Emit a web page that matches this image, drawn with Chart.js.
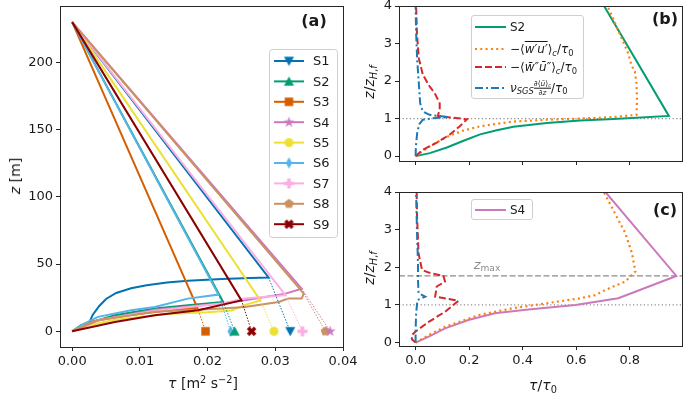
<!DOCTYPE html>
<html>
<head>
<meta charset="utf-8">
<script src="https://cdn.jsdelivr.net/npm/chart.js@4.4.0/dist/chart.umd.min.js"></script>
<style>
  body { margin: 0; background: #fff; font-family: 'DejaVu Sans', sans-serif; color: #1a1a1a; }
  #wrap { position: relative; width: 685px; height: 395px; overflow: hidden; }
  canvas { position: absolute; }
  .lbl { position: absolute; white-space: nowrap; font-size: 14px; line-height: 1; transform: translate(-50%, -50%); }
  .rot { transform: translate(-50%, -50%) rotate(-90deg); }
  .panel { position: absolute; font-weight: bold; font-size: 16px; line-height: 1; transform: translate(-50%, -50%); }
  .leg { position: absolute; border: 1px solid #cfcfcf; border-radius: 3px; background: rgba(255,255,255,0.8); box-sizing: border-box; }
  .leg svg { position: absolute; left: 0; top: 0; }
  .lt { position: absolute; left: 38px; transform: translateY(-50%); font-size: 12px; line-height: 1; white-space: nowrap; }
  sub { font-size: 0.7em; vertical-align: -0.3em; line-height: 0; }
  sup { font-size: 0.7em; vertical-align: 0.5em; line-height: 0; }
  .ov { text-decoration: overline; }
  .fr { display: inline-flex; flex-direction: column; font-size: 0.62em; vertical-align: middle; text-align: center; line-height: 1.05; }
  .fr > span:first-child { border-bottom: 1px solid #1a1a1a; }
</style>
</head>
<body>
<div id="wrap">
  <canvas id="chartA" width="360" height="395" style="left:0;top:0"></canvas>
  <canvas id="chartB" width="330" height="175" style="left:355px;top:0"></canvas>
  <canvas id="chartC" width="330" height="215" style="left:355px;top:180px"></canvas>

  <div class="lbl rot" style="left:15px;top:176px"><i>z</i> [m]</div>
  <div class="lbl" style="left:203px;top:383px"><i>τ</i> [m<sup>2</sup> s<sup>−2</sup>]</div>
  <div class="lbl rot" style="left:369px;top:82px"><i>z</i>/<i>z</i><sub><i>H</i>,<i>f</i></sub></div>
  <div class="lbl rot" style="left:369px;top:268px"><i>z</i>/<i>z</i><sub><i>H</i>,<i>f</i></sub></div>
  <div class="lbl" style="left:543px;top:385px"><i>τ</i>/<i>τ</i><sub>0</sub></div>

  <div class="panel" style="left:314px;top:21px">(a)</div>
  <div class="panel" style="left:665px;top:19px">(b)</div>
  <div class="panel" style="left:665px;top:210px">(c)</div>

  <div class="lbl" style="left:487px;top:264px;color:#8c8c8c;font-size:13px"><i>z</i><sub>max</sub></div>

  <div class="leg" style="left:471px;top:15px;width:113px;height:84px">
    <svg width="40" height="84">
      <line x1="3" x2="34" y1="11" y2="11" stroke="#029E73" stroke-width="2"/>
      <line x1="3" x2="34" y1="33" y2="33" stroke="#ff7f0e" stroke-width="2" stroke-dasharray="2 3.3"/>
      <line x1="3" x2="34" y1="51" y2="51" stroke="#d62728" stroke-width="2" stroke-dasharray="7 3"/>
      <line x1="3" x2="34" y1="72" y2="72" stroke="#1f77b4" stroke-width="2" stroke-dasharray="8 3 2 3"/>
    </svg>
    <div class="lt" style="top:11px">S2</div>
    <div class="lt" style="top:33px">−⟨<span class="ov"><i>w′u′</i></span>⟩<sub><i>c</i></sub>/<i>τ</i><sub>0</sub></div>
    <div class="lt" style="top:51px">−⟨<i>w̄″ū″</i>⟩<sub><i>c</i></sub>/<i>τ</i><sub>0</sub></div>
    <div class="lt" style="top:72px"><i>ν</i><sub><i>SGS</i></sub><span class="fr"><span>∂⟨<i>ū</i>⟩<sub><i>c</i></sub></span><span>∂<i>z</i></span></span>/<i>τ</i><sub>0</sub></div>
  </div>

  <div class="leg" style="left:471px;top:199px;width:62px;height:21px">
    <svg width="40" height="21">
      <line x1="3" x2="34" y1="10" y2="10" stroke="#CC78BC" stroke-width="2"/>
    </svg>
    <div class="lt" style="top:10px">S4</div>
  </div>
</div>

<script>
// ---- panel (a): total stress profiles
const seriesNames = ['S1', 'S2', 'S3', 'S4', 'S5', 'S6', 'S7', 'S8', 'S9'];
const seriesColors = ['#0173B2', '#029E73', '#D55E00', '#CC78BC', '#ECE133', '#56B4E9', '#FBAFE4', '#CA9161', '#8B0000'];
const seriesMarkers = ['v', '^', 's', '*', 'o', 'd', 'P', 'p', 'X'];
const wallTau = [0.0322, 0.0240, 0.0197, 0.0381, 0.0298, 0.0234, 0.0340, 0.0374, 0.0265];

const tauS1 = [0, 0.0290, 0.0263, 0.0221, 0.0171, 0.0140, 0.0110, 0.0087, 0.0065, 0.0050, 0.0040, 0.0030, 0.0025, 0.0012, 0];
const zS1 = [230, 40.0, 39.7, 38.9, 37.6, 36.3, 34.3, 32.0, 28.5, 24.0, 18.8, 12.0, 6.0, 3.0, 0];
const tauS2 = [0, 0.0223, 0.0171, 0.0122, 0.0063, 0.0013, 0];
const zS2 = [230, 21.8, 19.3, 16.9, 11.9, 4.5, 0];
const tauS3 = [0, 0.0185, 0.0171, 0.0122, 0.0063, 0.0026, 0.0011, 0];
const zS3 = [230, 17.5, 16.9, 14.4, 10.7, 6.9, 3.2, 0];
const tauS4 = [0, 0.0339, 0.0315, 0.0285, 0.0255, 0.0221, 0.0122, 0.0038, 0];
const zS4 = [230, 31.7, 28.0, 25.5, 23.0, 20.6, 16.0, 8.0, 0];
const tauS5 = [0, 0.0278, 0.0258, 0.0235, 0.0200, 0.0144, 0.0063, 0.0025, 0];
const zS5 = [230, 23.0, 20.0, 15.5, 14.2, 13.0, 8.5, 4.5, 0];
const tauS6 = [0, 0.0216, 0.0171, 0.0122, 0.0087, 0.0038, 0.0015, 0];
const zS6 = [230, 27.3, 24.3, 18.0, 15.6, 10.7, 5.0, 0];
const tauS7 = [0, 0.0315, 0.0255, 0.0221, 0.0125, 0.0038, 0];
const zS7 = [230, 26.8, 24.3, 20.6, 15.5, 8.2, 0];
const tauS8 = [0, 0.0342, 0.0339, 0.0319, 0.0305, 0.0255, 0.0221, 0.0122, 0.0038, 0];
const zS8 = [230, 28.0, 24.3, 24.3, 21.8, 18.0, 16.9, 14.5, 8.2, 0];
const tauS9 = [0, 0.0250, 0.0186, 0.0122, 0.0063, 0];
const zS9 = [230, 23.0, 15.6, 11.9, 6.9, 0];

const tauProfiles = [tauS1, tauS2, tauS3, tauS4, tauS5, tauS6, tauS7, tauS8, tauS9];
const zProfiles = [zS1, zS2, zS3, zS4, zS5, zS6, zS7, zS8, zS9];
const tauTicks = [0, 0.01, 0.02, 0.03, 0.04];
const zTicks = [0, 50, 100, 150, 200];

// ---- panels (b) and (c): normalised stress contributions
const ratioTicks = [0, 0.2, 0.4, 0.6, 0.8];
const zHTicks = [0, 1, 2, 3, 4];

const s2TotalX = [0, 0.053, 0.117, 0.179, 0.241, 0.303, 0.365, 0.49, 0.614, 0.739, 0.946, 0.704];
const s2TotalZ = [0, 0.08, 0.23, 0.41, 0.58, 0.69, 0.78, 0.88, 0.95, 0.99, 1.07, 4.0];
const s2ResolvedX = [0, 0.052, 0.115, 0.177, 0.239, 0.302, 0.364, 0.489, 0.613, 0.738, 0.825, 0.827, 0.825, 0.819, 0.806, 0.794, 0.717];
const s2ResolvedZ = [0, 0.26, 0.51, 0.68, 0.79, 0.86, 0.92, 0.97, 1.0, 1.04, 1.1, 1.5, 1.94, 2.25, 2.43, 2.74, 4.0];
const s2DispX = [0, 0.027, 0.077, 0.127, 0.164, 0.192, 0.083, 0.09, 0.09, 0.071, 0.052, 0.027, 0.012, 0.005, 0.002];
const s2DispZ = [0, 0.17, 0.35, 0.57, 0.79, 0.98, 1.07, 1.24, 1.41, 1.68, 1.86, 2.17, 2.61, 3.27, 4.0];
const s2SgsX = [0, 0.001, 0.006, 0.013, 0.027, 0.064, 0.121, 0.052, 0.027, 0.017, 0.012, 0.006, 0.002, 0];
const s2SgsZ = [0, 0.26, 0.62, 0.84, 0.97, 1.01, 1.04, 1.1, 1.19, 1.41, 1.94, 2.56, 3.27, 4.0];

const s4TotalX = [0, 0.049, 0.11, 0.197, 0.296, 0.421, 0.597, 0.757, 0.974, 0.709];
const s4TotalZ = [0, 0.16, 0.38, 0.6, 0.78, 0.88, 1.0, 1.18, 1.77, 4.0];
const s4ResolvedX = [0, 0.049, 0.11, 0.235, 0.36, 0.484, 0.609, 0.671, 0.709, 0.783, 0.821, 0.808, 0.783, 0.703];
const s4ResolvedZ = [0, 0.2, 0.42, 0.73, 0.91, 1.04, 1.17, 1.26, 1.4, 1.62, 1.89, 2.38, 2.91, 4.0];
const s4DispX = [0, -0.014, -0.014, -0.001, 0.049, 0.11, 0.16, 0.073, 0.079, 0.11, 0.104, 0.049, 0.024, 0.011, 0.005, 0.004];
const s4DispZ = [0, 0.09, 0.2, 0.29, 0.55, 0.82, 1.11, 1.22, 1.49, 1.62, 1.77, 1.86, 1.93, 2.37, 3.43, 4.0];
const s4SgsX = [0, 0, 0.002, 0.007, 0.036, 0.011, 0.009, 0.009, 0.005, 0.002];
const s4SgsZ = [0, 0.34, 0.78, 1.13, 1.22, 1.31, 1.66, 2.1, 2.99, 4.0];

const canopyTop = 1.0;
const s4ZMax = 1.77;

Chart.defaults.font.family = "'DejaVu Sans', sans-serif";
Chart.defaults.font.size = 13;
Chart.defaults.color = '#1a1a1a';

const zip = (xs, ys) => xs.map((x, i) => ({ x: x, y: ys[i] }));

function makeMarker(shape, color) {
  const size = 13;
  const c = document.createElement('canvas');
  c.width = size; c.height = size;
  const g = c.getContext('2d');
  g.translate(size / 2, size / 2);
  g.fillStyle = color;
  g.beginPath();
  const r = 5;
  if (shape === 'v') {
    g.moveTo(-r, -r * 0.85); g.lineTo(r, -r * 0.85); g.lineTo(0, r);
  } else if (shape === '^') {
    g.moveTo(-r, r * 0.85); g.lineTo(r, r * 0.85); g.lineTo(0, -r);
  } else if (shape === 's') {
    g.rect(-r * 0.85, -r * 0.85, r * 1.7, r * 1.7);
  } else if (shape === 'o') {
    g.arc(0, 0, r * 0.9, 0, Math.PI * 2);
  } else if (shape === 'd') {
    g.moveTo(0, -r * 1.15); g.lineTo(r * 0.62, 0); g.lineTo(0, r * 1.15); g.lineTo(-r * 0.62, 0);
  } else if (shape === 'p') {
    for (let k = 0; k < 5; k++) {
      const a = -Math.PI / 2 + k * 2 * Math.PI / 5;
      g.lineTo(Math.cos(a) * r, Math.sin(a) * r);
    }
  } else if (shape === '*') {
    for (let k = 0; k < 10; k++) {
      const a = -Math.PI / 2 + k * Math.PI / 5;
      const rr = k % 2 ? r * 0.45 : r * 1.15;
      g.lineTo(Math.cos(a) * rr, Math.sin(a) * rr);
    }
  } else {
    if (shape === 'X') g.rotate(Math.PI / 4);
    const a = r * 0.36, b = r;
    const pts = [[-a, -b], [a, -b], [a, -a], [b, -a], [b, a], [a, a], [a, b], [-a, b], [-a, a], [-b, a], [-b, -a], [-a, -a]];
    pts.forEach(p => g.lineTo(p[0], p[1]));
  }
  g.closePath();
  g.fill();
  return c;
}

const markerImgs = seriesMarkers.map((m, i) => makeMarker(m, seriesColors[i]));

const boxPlugin = {
  id: 'box',
  afterDatasetsDraw(chart) {
    const { ctx, chartArea: a } = chart;
    ctx.save();
    ctx.strokeStyle = '#262626';
    ctx.lineWidth = 1;
    ctx.strokeRect(Math.round(a.left) + 0.5, Math.round(a.top) + 0.5, Math.round(a.right - a.left), Math.round(a.bottom - a.top));
    ctx.restore();
  }
};

const legendA = {
  id: 'legendA',
  afterDraw(chart) {
    const { ctx, chartArea: a } = chart;
    const w = 68, h = 188;
    const x0 = a.right - w - 6, y0 = a.top + 43;
    ctx.save();
    ctx.fillStyle = 'rgba(255,255,255,0.8)';
    ctx.strokeStyle = '#cfcfcf';
    ctx.lineWidth = 1;
    ctx.beginPath();
    ctx.roundRect(x0 + 0.5, y0 + 0.5, w, h, 3);
    ctx.fill();
    ctx.stroke();
    ctx.font = "13px 'DejaVu Sans'";
    ctx.textBaseline = 'middle';
    seriesNames.forEach((name, i) => {
      const y = y0 + 12 + i * 20.4;
      ctx.strokeStyle = seriesColors[i];
      ctx.lineWidth = 2;
      ctx.beginPath();
      ctx.moveTo(x0 + 5, y);
      ctx.lineTo(x0 + 35, y);
      ctx.stroke();
      const m = markerImgs[i];
      ctx.drawImage(m, x0 + 20 - m.width / 2, y - m.height / 2);
      ctx.fillStyle = '#1a1a1a';
      ctx.fillText(name, x0 + 44, y + 1);
    });
    ctx.restore();
  }
};

// fixed axis box sizes; the label overflow padding is dropped so the layout padding decides
function axisCommon(ticksArr, fmt, size, horizontal, showLabels) {
  return {
    type: 'linear',
    afterBuildTicks: s => { s.ticks = ticksArr.map(v => ({ value: v })); },
    afterFit: s => {
      if (horizontal) s.height = size; else s.width = size;
      s.paddingTop = 0; s.paddingBottom = 0; s.paddingLeft = 0; s.paddingRight = 0;
    },
    ticks: { display: showLabels, padding: 3, callback: fmt, autoSkip: false, maxRotation: 0 },
    grid: { display: true, drawOnChartArea: false, drawTicks: true, tickLength: 4, tickColor: '#262626', tickWidth: 1 },
    border: { display: false }
  };
}

// chart (a)
const datasetsA = [];
seriesNames.forEach((name, i) => {
  const tau = tauProfiles[i], z = zProfiles[i];
  datasetsA.push({
    label: name,
    data: zip(tau, z),
    showLine: true,
    borderColor: seriesColors[i],
    borderWidth: 2,
    pointRadius: 0,
    order: 20 - i
  });
  datasetsA.push({
    label: name + ' wall',
    data: [{ x: tau[1], y: z[1] }, { x: wallTau[i], y: 0 }],
    showLine: true,
    borderColor: seriesColors[i],
    borderWidth: 1,
    borderDash: [1.5, 1.5],
    pointRadius: 0,
    order: 5
  });
  datasetsA.push({
    label: name + ' marker',
    data: [{ x: wallTau[i], y: 0 }],
    showLine: false,
    pointStyle: markerImgs[i],
    pointRadius: 5,
    order: 0
  });
});

const xA = axisCommon(tauTicks, v => v.toFixed(2), 48, true, true);
xA.min = -0.0018; xA.max = 0.04;
const yA = axisCommon(zTicks, v => String(v), 60, false, true);
yA.min = -11.7; yA.max = 242;

new Chart(document.getElementById('chartA'), {
  type: 'scatter',
  data: { datasets: datasetsA },
  options: {
    responsive: false,
    animation: false,
    layout: { padding: { top: 6, right: 17, bottom: 0, left: 0 } },
    plugins: { legend: { display: false }, tooltip: { enabled: false } },
    scales: { x: xA, y: yA }
  },
  plugins: [boxPlugin, legendA]
});

// charts (b) and (c)
function profileSets(totalColor, tx, tz, rx, rz, dx, dz, sx, sz, extraLines) {
  const xMin = -0.062, xMax = 0.995;
  const sets = [
    { data: zip(tx, tz), borderColor: totalColor, borderWidth: 2, order: 6 },
    { data: zip(rx, rz), borderColor: '#ff7f0e', borderWidth: 2.2, borderDash: [2, 3.3], order: 5 },
    { data: zip(dx, dz), borderColor: '#d62728', borderWidth: 2, borderDash: [7, 3], order: 4 },
    { data: zip(sx, sz), borderColor: '#1f77b4', borderWidth: 2, borderDash: [8, 3, 2, 3], order: 3 },
    { data: [{ x: xMin, y: canopyTop }, { x: xMax, y: canopyTop }], borderColor: '#8c8c8c', borderWidth: 1.2, borderDash: [1.2, 2.4], order: 7 }
  ];
  extraLines.forEach(z => {
    sets.push({ data: [{ x: xMin, y: z }, { x: xMax, y: z }], borderColor: '#8c8c8c', borderWidth: 1.2, borderDash: [6, 2.5], order: 7 });
  });
  sets.forEach(s => { s.showLine = true; s.pointRadius = 0; });
  return sets;
}

function profileChart(id, sets, yMin, topPad, xHeight, showX) {
  const x = axisCommon(ratioTicks, v => v.toFixed(1), xHeight, true, showX);
  x.min = -0.062; x.max = 0.995;
  const y = axisCommon(zHTicks, v => String(v), 44, false, true);
  y.min = yMin; y.max = 4;
  return new Chart(document.getElementById(id), {
    type: 'scatter',
    data: { datasets: sets },
    options: {
      responsive: false,
      animation: false,
      layout: { padding: { top: topPad, right: 3, bottom: 0, left: 0 } },
      plugins: { legend: { display: false }, tooltip: { enabled: false } },
      scales: { x: x, y: y }
    },
    plugins: [boxPlugin]
  });
}

profileChart('chartB',
  profileSets('#029E73', s2TotalX, s2TotalZ, s2ResolvedX, s2ResolvedZ, s2DispX, s2DispZ, s2SgsX, s2SgsZ, []),
  -0.13, 6, 14, false);
profileChart('chartC',
  profileSets('#CC78BC', s4TotalX, s4TotalZ, s4ResolvedX, s4ResolvedZ, s4DispX, s4DispZ, s4SgsX, s4SgsZ, [s4ZMax]),
  -0.09, 12, 49, true);
</script>
</body>
</html>
